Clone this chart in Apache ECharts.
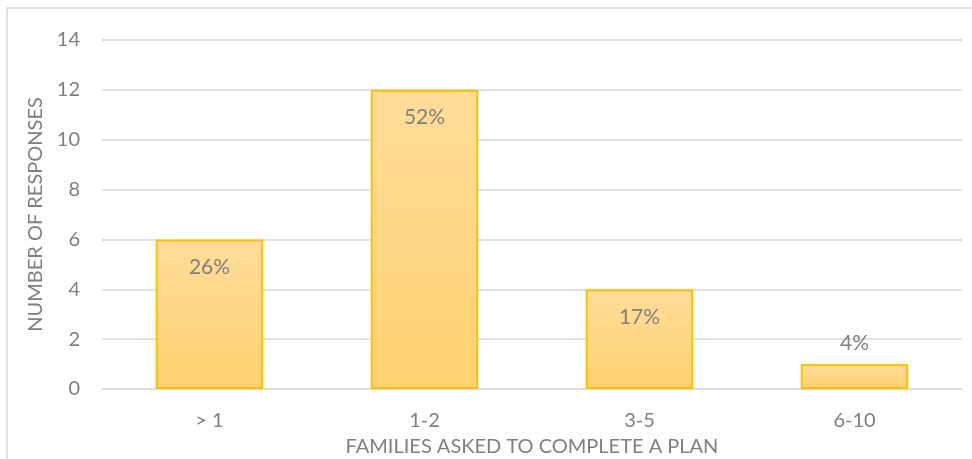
<!DOCTYPE html>
<html>
<head>
<meta charset="utf-8">
<script src="https://cdn.jsdelivr.net/npm/echarts@6/dist/echarts.min.js"></script>
<style>
  html, body { margin: 0; padding: 0; background: #fff; }
  #container { width: 972px; height: 459px; }
</style>
</head>
<body>
<div id="container"></div>
<script>
var categories = ['> 1', '1-2', '3-5', '6-10'];
var responses = [6, 12, 4, 1];
var shares = ['26%', '52%', '17%', '4%'];
var yTicks = [0, 2, 4, 6, 8, 10, 12, 14];

var font = 'Lato, "Open Sans", sans-serif';
var grey = '#7f7f7f';

var myChart = echarts.init(document.getElementById('container'));
myChart.setOption({
    animation: false,
    graphic: [{
        type: 'rect',
        shape: { x: 7, y: 8, width: 1000, height: 500 },
        style: { fill: 'none', stroke: '#d9d9d9', lineWidth: 1.5 },
        silent: true
    }],
    grid: { left: 102, right: 10, top: 40, bottom: 70, containLabel: false, outerBoundsMode: 'none' },
    xAxis: {
        type: 'category',
        data: categories,
        name: 'FAMILIES ASKED TO COMPLETE A PLAN',
        nameLocation: 'middle',
        nameGap: 48,
        nameTextStyle: { color: grey, fontSize: 20, fontFamily: font },
        axisLine: { show: true, lineStyle: { color: '#d9d9d9', width: 1.5 } },
        axisTick: { show: false },
        axisLabel: { color: grey, fontSize: 20, fontFamily: font, margin: 22 }
    },
    yAxis: {
        type: 'value',
        min: yTicks[0],
        max: yTicks[yTicks.length - 1],
        interval: 2,
        name: 'NUMBER OF RESPONSES',
        nameLocation: 'middle',
        nameGap: 56,
        nameTextStyle: { color: grey, fontSize: 20, fontFamily: font },
        axisLine: { show: false },
        axisTick: { show: false },
        axisLabel: { color: grey, fontSize: 20, fontFamily: font, margin: 22 },
        splitLine: { lineStyle: { color: '#d9d9d9', width: 1.5 } }
    },
    series: [{
        type: 'bar',
        barWidth: '50%',
        data: responses.map(function (v, i) {
            return {
                value: v,
                label: v < 2 ? { position: 'top', distance: 10 } : { position: 'insideTop', distance: 17 }
            };
        }),
        itemStyle: {
            color: new echarts.graphic.LinearGradient(0, 0, 0, 1, [
                { offset: 0, color: '#FFDC9A' },
                { offset: 1, color: '#FFD270' }
            ], false),
            borderColor: '#FFC000',
            borderWidth: 2
        },
        label: {
            show: true,
            color: grey,
            fontSize: 21,
            fontFamily: font,
            formatter: function (p) { return shares[p.dataIndex]; }
        }
    }]
});
</script>
</body>
</html>
